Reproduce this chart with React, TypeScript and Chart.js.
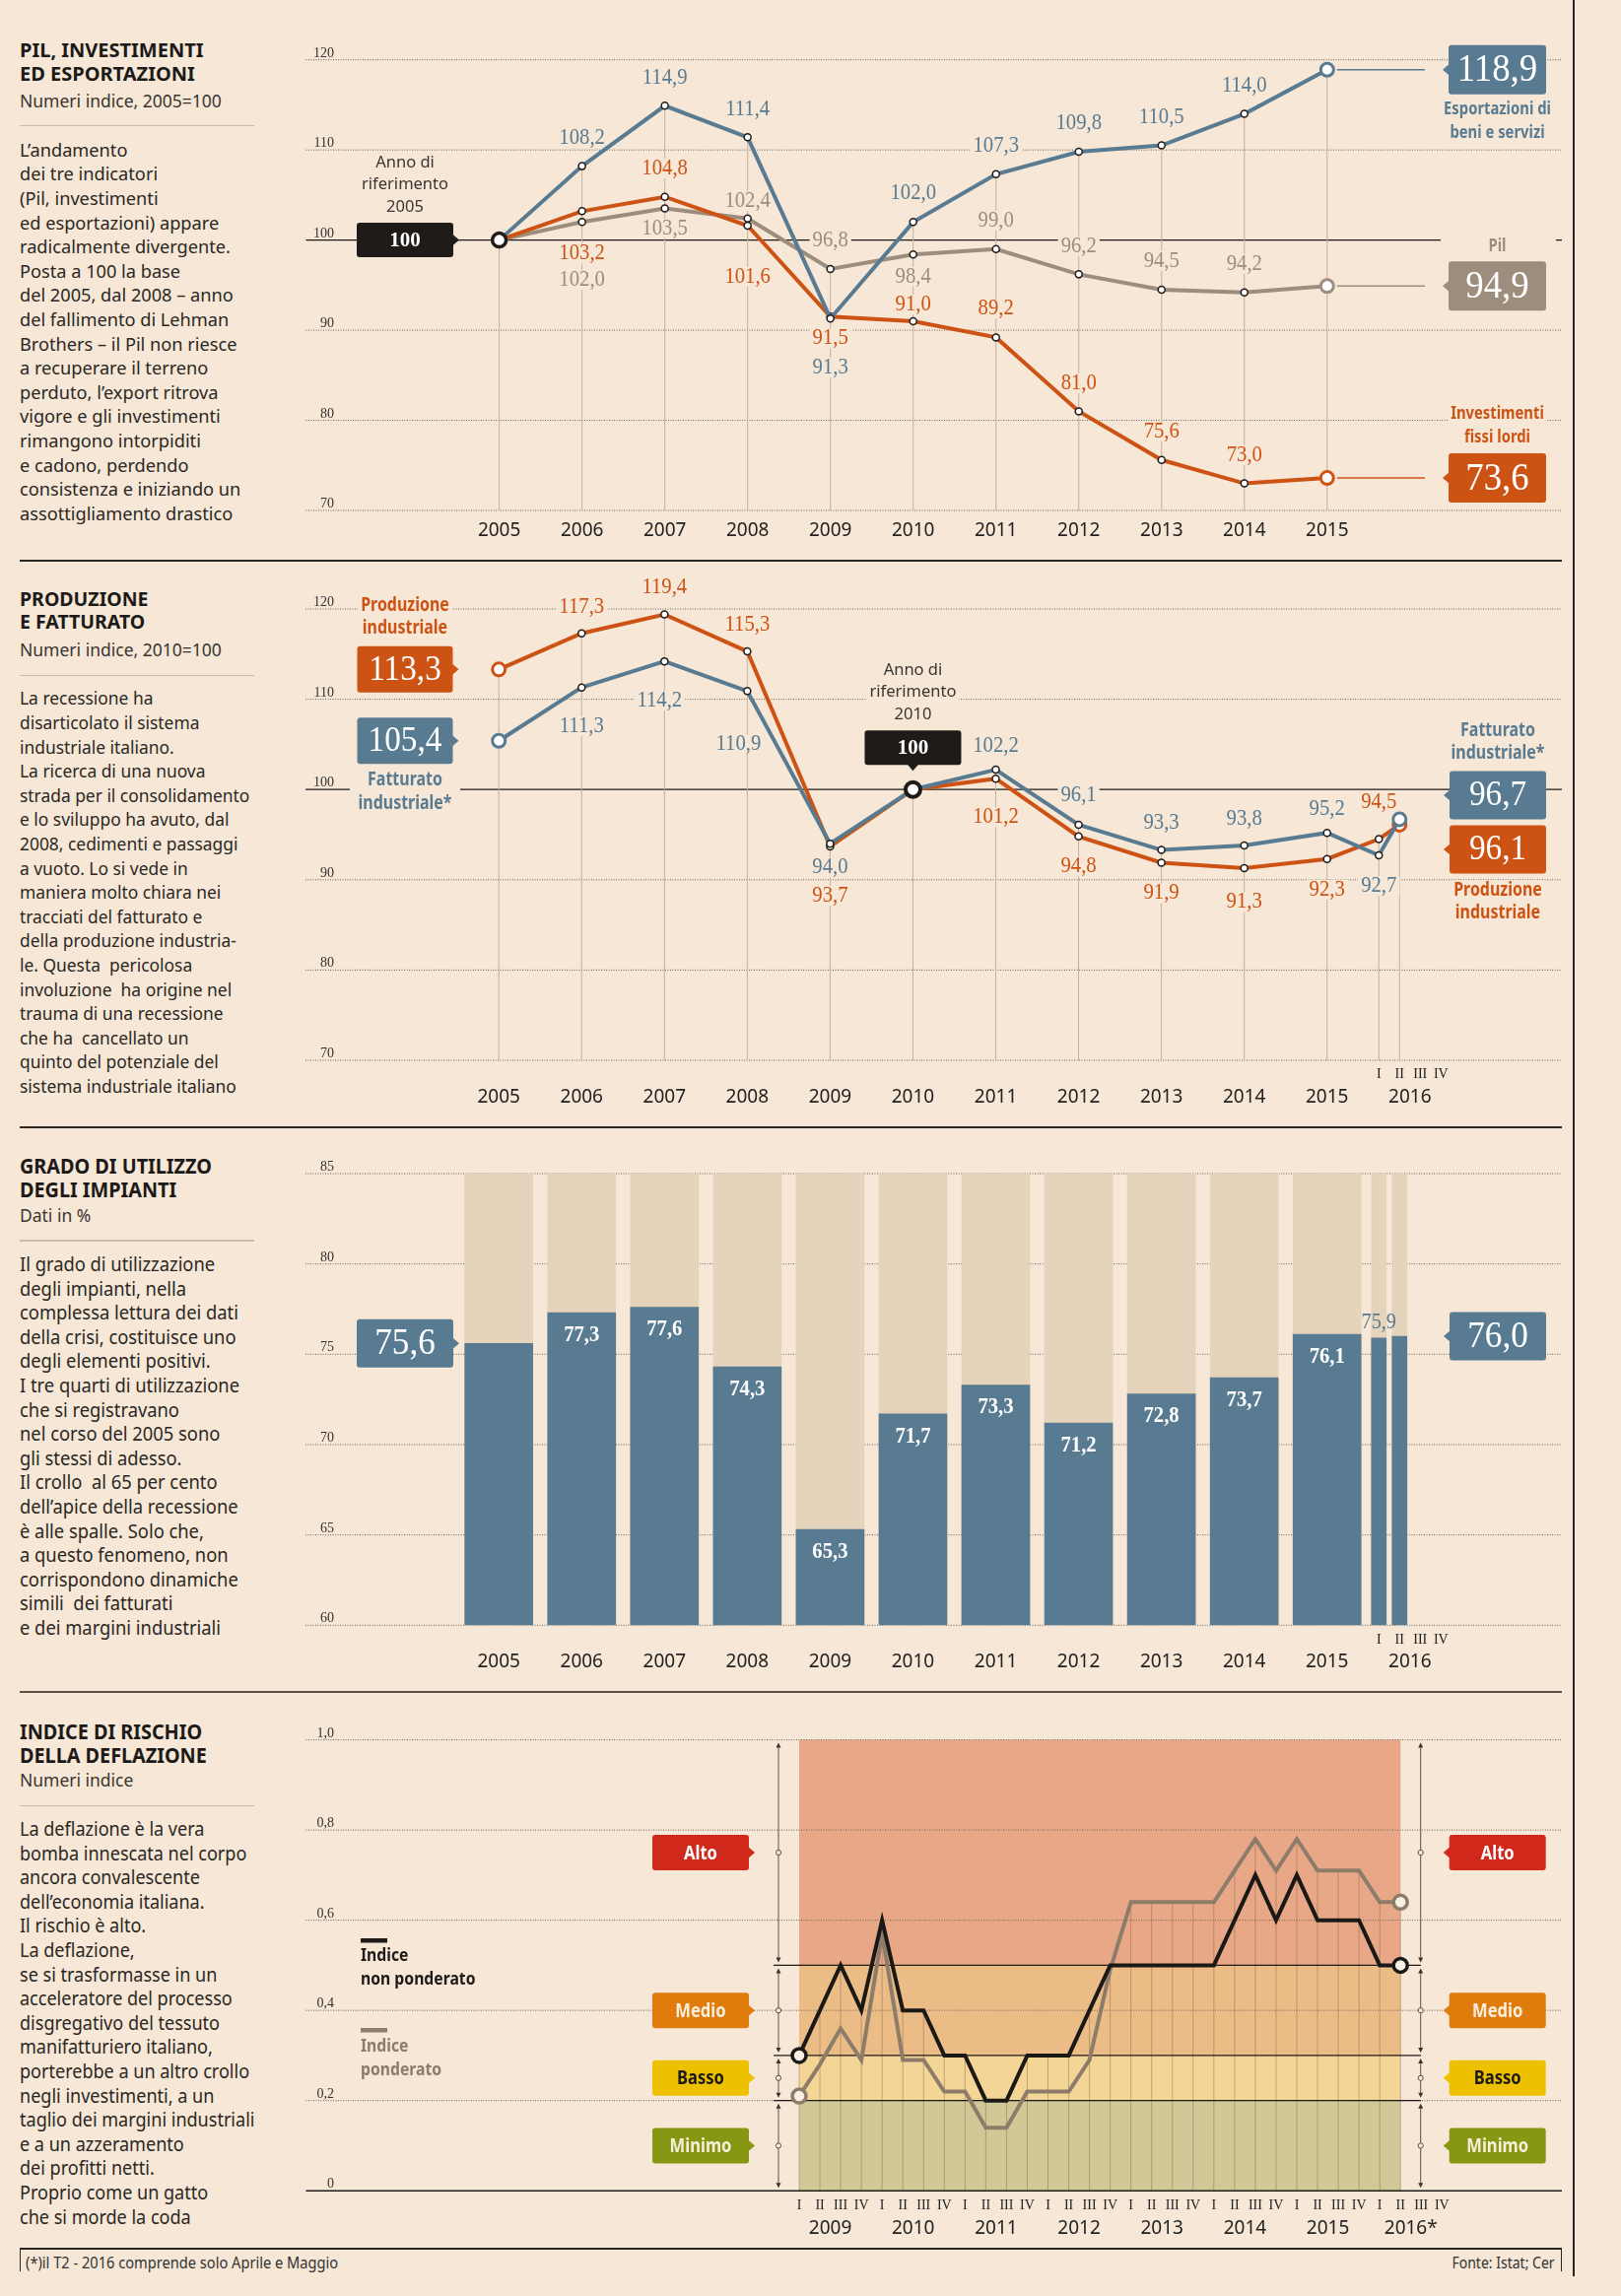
import React, { useEffect, useRef } from 'react';
import { Chart, registerables } from 'chart.js';
Chart.register(...registerables);

// ================= DATA =================
// Chart 1 – Pil, investimenti ed esportazioni (2005=100)
const years1 = [2005, 2006, 2007, 2008, 2009, 2010, 2011, 2012, 2013, 2014, 2015];
const exportValues = [100, 108.2, 114.9, 111.4, 91.3, 102.0, 107.3, 109.8, 110.5, 114.0, 118.9];
const pilValues = [100, 102.0, 103.5, 102.4, 96.8, 98.4, 99.0, 96.2, 94.5, 94.2, 94.9];
const investValues = [100, 103.2, 104.8, 101.6, 91.5, 91.0, 89.2, 81.0, 75.6, 73.0, 73.6];
const ticks1 = [70, 80, 90, 100, 110, 120];

// Chart 2 – Produzione e fatturato (2010=100)
const periods2 = ['2005', '2006', '2007', '2008', '2009', '2010', '2011', '2012', '2013', '2014', '2015', '2016 I', '2016 II'];
const fatturatoValues = [105.4, 111.3, 114.2, 110.9, 94.0, 100, 102.2, 96.1, 93.3, 93.8, 95.2, 92.7, 96.7];
const produzioneValues = [113.3, 117.3, 119.4, 115.3, 93.7, 100, 101.2, 94.8, 91.9, 91.3, 92.3, 94.5, 96.1];
const ticks2 = [70, 80, 90, 100, 110, 120];

// Chart 3 – Grado di utilizzo degli impianti (%)
const periods3 = ['2005', '2006', '2007', '2008', '2009', '2010', '2011', '2012', '2013', '2014', '2015', '2016 I', '2016 II'];
const utilizzoValues = [75.6, 77.3, 77.6, 74.3, 65.3, 71.7, 73.3, 71.2, 72.8, 73.7, 76.1, 75.9, 76.0];
const ticks3 = [60, 65, 70, 75, 80, 85];

// Chart 4 – Indice di rischio della deflazione (trimestri 2009 I – 2016 II)
const years4Labels = ['2009', '2010', '2011', '2012', '2013', '2014', '2015', '2016*'];
const quarterNames = ['I', 'II', 'III', 'IV'];
const nonPonderato = [0.3, 0.4, 0.5, 0.4, 0.6, 0.4, 0.4, 0.3, 0.3, 0.2, 0.2, 0.3, 0.3, 0.3, 0.4, 0.5, 0.5, 0.5, 0.5, 0.5, 0.5, 0.6, 0.7, 0.6, 0.7, 0.6, 0.6, 0.6, 0.5, 0.5];
const ponderato = [0.21, 0.28, 0.36, 0.29, 0.57, 0.29, 0.29, 0.22, 0.22, 0.14, 0.14, 0.22, 0.22, 0.22, 0.29, 0.49, 0.64, 0.64, 0.64, 0.64, 0.64, 0.71, 0.78, 0.71, 0.78, 0.71, 0.71, 0.71, 0.64, 0.64];
const ticks4 = [0, 0.2, 0.4, 0.6, 0.8, 1.0];
const riskNames = ['Alto', 'Medio', 'Basso', 'Minimo'];
const riskFrom = [0.5, 0.3, 0.2, 0];
const riskTo = [1.0, 0.5, 0.3, 0.2];

// ================= LAYOUT / STYLE =================
const BG = '#f6e7d6';
const BLUE = '#587b92';
const ORANGE = '#cd5314';
const PILC = '#9d8d7d';
const DARK = '#1e1b18';
const GRID = '#6e645b';
const VLINE = '#c3b19e';
const TEXT = '#2b2724';
const BARBG = '#e5d3bc';
const GRAY4 = '#8e7c6a';
const zoneColors = ['#e8a887', '#ebbc86', '#f3d595', '#d1c897'];
const riskBoxColors = ['#d0281a', '#e07c0c', '#eec100', '#879713'];
const riskTextColors = ['#ffffff', '#fbeede', '#1b1916', '#f4efd9'];
const SERIF = '"Liberation Serif", "DejaVu Serif", serif';
const SANS = '"Noto Sans", "Open Sans", sans-serif';

// label offsets (px from point, negative = above)
const dy1Export = [null, -29, -28.6, -28, 50, -29, -29, -28.6, -28.6, -28.6, null];
const dy1Pil = [null, 59, 20, -17.5, -28.6, 22.5, -29, -28.6, -29, -29, null];
const dy1Invest = [null, 43, -28.6, 52, 22, -17, -29, -28.6, -28.6, -28.6, null];
const dy2Fatt = [null, 39, 40, 54, 24, null, -24, -30, -27.6, -27, -24, 31, null];
const dx2Fatt = [0, 0, -5, -9, 0, 0, 0, 0, 0, 0, 0, 0, 0];
const dy2Prod = [null, -27, -27.6, -27, 50, null, 39, 30, 31, 34.5, 31, -38, null];

const CW = 1297; // canvas width (canvas left = 300 px)
const X_MIN = 2002.6657, X_MAX = 2017.835;
const LABEL_FONT = `23px ${SERIF}`;
const LABEL_SX = 0.9;

function periodX(p: string) {
  const parts = p.split(' ');
  const y = Number(parts[0]);
  if (parts.length === 1) return y;
  return y + (quarterNames.indexOf(parts[1]) - 1.5) * 0.25;
}
function fmt(v: number) { return v.toFixed(1).replace('.', ','); }

// ================= DRAW HELPERS =================
function hLine(ctx: any, x1: number, x2: number, y: number, color: string, w = 1, dash: number[] = []) {
  ctx.save(); ctx.strokeStyle = color; ctx.lineWidth = w; ctx.setLineDash(dash);
  ctx.beginPath(); ctx.moveTo(x1, y); ctx.lineTo(x2, y); ctx.stroke(); ctx.restore();
}
function vLine(ctx: any, x: number, y1: number, y2: number, color: string, w = 1) {
  ctx.save(); ctx.strokeStyle = color; ctx.lineWidth = w;
  ctx.beginPath(); ctx.moveTo(x, y1); ctx.lineTo(x, y2); ctx.stroke(); ctx.restore();
}
function txt(ctx: any, s: string, x: number, y: number, font: string, color: string, o: any = {}) {
  ctx.save();
  ctx.font = font;
  const al = o.align || 'center';
  ctx.textAlign = al;
  ctx.textBaseline = o.baseline || 'middle';
  const sx = o.sx || 1;
  if (o.bg) {
    const pad = o.padX ?? 6;
    const w = ctx.measureText(s).width * sx + pad;
    const h = o.h ?? 20;
    const left = al === 'center' ? x - w / 2 : al === 'left' ? x - pad / 2 : x - w + pad / 2;
    ctx.fillStyle = o.bg;
    ctx.fillRect(left, y - h / 2, w, h);
  }
  if (!o.bgOnly) {
    ctx.translate(x, y);
    ctx.scale(sx, 1);
    ctx.fillStyle = color;
    ctx.fillText(s, 0, 0);
  }
  ctx.restore();
}
function box(ctx: any, x: number, y: number, w: number, h: number, color: string, side: string, label: string, font: string, textColor: string, sx = 1) {
  ctx.save();
  ctx.fillStyle = color;
  const r = 3;
  ctx.beginPath();
  ctx.moveTo(x + r, y); ctx.lineTo(x + w - r, y); ctx.quadraticCurveTo(x + w, y, x + w, y + r);
  ctx.lineTo(x + w, y + h - r); ctx.quadraticCurveTo(x + w, y + h, x + w - r, y + h);
  ctx.lineTo(x + r, y + h); ctx.quadraticCurveTo(x, y + h, x, y + h - r);
  ctx.lineTo(x, y + r); ctx.quadraticCurveTo(x, y, x + r, y);
  ctx.closePath(); ctx.fill();
  const p = 6;
  ctx.beginPath();
  if (side === 'left') { ctx.moveTo(x + 1, y + h / 2 - p); ctx.lineTo(x - p, y + h / 2); ctx.lineTo(x + 1, y + h / 2 + p); }
  else if (side === 'right') { ctx.moveTo(x + w - 1, y + h / 2 - p); ctx.lineTo(x + w + p, y + h / 2); ctx.lineTo(x + w - 1, y + h / 2 + p); }
  else { ctx.moveTo(x + w / 2 - p, y + h - 1); ctx.lineTo(x + w / 2, y + h + p); ctx.lineTo(x + w / 2 + p, y + h - 1); }
  ctx.closePath(); ctx.fill();
  ctx.restore();
  txt(ctx, label, x + w / 2, y + h / 2 + 1, font, textColor, { sx });
}
function yTick(ctx: any, label: string, py: number) {
  txt(ctx, label, 39, py - 3, `14px ${SERIF}`, '#333', { align: 'right', baseline: 'alphabetic' });
}
const NAME_FONT1 = `bold 18.5px ${SANS}`;

function baseOptions(pad: any, xMin: number, xMax: number, yMin: number, yMax: number) {
  return {
    responsive: false,
    animation: false,
    events: [],
    layout: { padding: pad },
    plugins: { legend: { display: false }, tooltip: { enabled: false } },
    scales: {
      x: { type: 'linear', display: false, min: xMin, max: xMax, offset: false },
      y: { type: 'linear', display: false, min: yMin, max: yMax },
    },
  };
}

// ================= CHART 1 =================
function makeChart1(canvas: HTMLCanvasElement) {
  const series = [
    { values: exportValues, color: BLUE, dy: dy1Export, name: ['Esportazioni di', 'beni e servizi'], namePos: 'below' },
    { values: investValues, color: ORANGE, dy: dy1Invest, name: ['Investimenti', 'fissi lordi'], namePos: 'above' },
    { values: pilValues, color: PILC, dy: dy1Pil, name: ['Pil'], namePos: 'above' },
  ];
  const last = years1.length - 1;
  const BX = 1170, BW = 99, BH = 50;
  const plugin = {
    id: 'c1',
    beforeDatasetsDraw(ch: any) {
      const { ctx, chartArea: a } = ch; const X = ch.scales.x, Y = ch.scales.y;
      ticks1.forEach((t) => {
        const py = Y.getPixelForValue(t);
        if (t === 100) { hLine(ctx, a.left, BX - 8, py, DARK, 1.3); hLine(ctx, BX + BW + 10, a.right, py, DARK, 1.3); }
        else hLine(ctx, a.left, a.right, py, GRID, 1, [1, 1.5]);
        yTick(ctx, String(t), py);
      });
      years1.forEach((yr, i) => {
        const px = X.getPixelForValue(yr);
        const top = Math.min(...series.map((s) => Y.getPixelForValue(s.values[i])));
        vLine(ctx, px, top, a.bottom, VLINE, 1);
        txt(ctx, String(yr), px, 539, `19px ${SANS}`, '#222');
      });
      series.forEach((s) => s.values.forEach((v, i) => {
        const d = s.dy[i]; if (d == null) return;
        txt(ctx, fmt(v), X.getPixelForValue(years1[i]), Y.getPixelForValue(v) + d, LABEL_FONT, s.color, { bg: BG, bgOnly: true, sx: LABEL_SX });
      }));
    },
    afterDatasetsDraw(ch: any) {
      const { ctx } = ch; const X = ch.scales.x, Y = ch.scales.y;
      series.forEach((s) => s.values.forEach((v, i) => {
        const d = s.dy[i]; if (d == null) return;
        txt(ctx, fmt(v), X.getPixelForValue(years1[i]), Y.getPixelForValue(v) + d, LABEL_FONT, s.color, { sx: LABEL_SX });
      }));
      series.forEach((s) => {
        const v = s.values[last];
        const py = Y.getPixelForValue(v);
        const px = X.getPixelForValue(years1[last]);
        hLine(ctx, px + 10, BX - 24, py, s.color, 1.5);
        box(ctx, BX, py - BH / 2, BW, BH, s.color, 'left', fmt(v), `40px ${SERIF}`, '#fff', 0.92);
        const cx = BX + BW / 2;
        if (s.namePos === 'below') {
          s.name.forEach((n, k) => txt(ctx, n, cx, py + BH / 2 + 15 + k * 24, NAME_FONT1, s.color, { sx: 0.8, bg: BG }));
        } else {
          const n = s.name.length;
          s.name.forEach((nm, k) => txt(ctx, nm, cx, py - BH / 2 - 16 - (n - 1 - k) * 24, NAME_FONT1, s.color, { sx: 0.8, bg: BG }));
        }
      });
      // reference year annotation
      const py100 = Y.getPixelForValue(100);
      const top = py100 - 17.5;
      ['Anno di', 'riferimento', String(years1[0])].forEach((t, k) =>
        txt(ctx, t, 111, top - 61 + k * 22.5, `16.5px ${SANS}`, '#3a3632', { bg: BG }));
      box(ctx, 62, top, 98, 35, DARK, 'right', '100', `bold 21px ${SERIF}`, '#fff');
    },
  };
  return new Chart(canvas, {
    type: 'line',
    data: {
      datasets: series.map((s, si) => ({
        data: years1.map((yr, i) => ({ x: yr, y: s.values[i] })),
        borderColor: s.color,
        borderWidth: 4,
        tension: 0,
        clip: false,
        pointRadius: (c: any) => (c.dataIndex === last ? 6.5 : c.dataIndex === 0 ? (si === 0 ? 7 : 0) : 3.5),
        pointBorderWidth: (c: any) => (c.dataIndex === last ? 3 : c.dataIndex === 0 ? 3.5 : 1.5),
        pointBorderColor: (c: any) => (c.dataIndex === last ? s.color : DARK),
        pointBackgroundColor: '#ffffff',
      })),
    },
    options: baseOptions({ left: 10, right: 12, top: 60.7, bottom: 51 }, X_MIN, X_MAX, 70, 120) as any,
    plugins: [plugin],
  } as any);
}

// ================= CHART 2 =================
function makeChart2(canvas: HTMLCanvasElement) {
  const xs = periods2.map(periodX);
  const last = xs.length - 1;
  const refIndex = periods2.indexOf('2010');
  const series = [
    { values: fatturatoValues, color: BLUE, dy: dy2Fatt, dx: dx2Fatt, name: ['Fatturato', 'industriale*'] },
    { values: produzioneValues, color: ORANGE, dy: dy2Prod, dx: null as any, name: ['Produzione', 'industriale'] },
  ];
  const NF = `bold 19px ${SANS}`;
  const plugin = {
    id: 'c2',
    beforeDatasetsDraw(ch: any) {
      const { ctx, chartArea: a } = ch; const X = ch.scales.x, Y = ch.scales.y;
      ticks2.forEach((t) => {
        const py = Y.getPixelForValue(t);
        if (t === 100) { hLine(ctx, a.left, 55, py, DARK, 1.3); hLine(ctx, 167, a.right, py, DARK, 1.3); }
        else hLine(ctx, a.left, a.right, py, GRID, 1, [1, 1.5]);
        yTick(ctx, String(t), py);
      });
      xs.forEach((x, i) => {
        const px = X.getPixelForValue(x);
        const top = Math.min(...series.map((s) => Y.getPixelForValue(s.values[i])));
        vLine(ctx, px, top, a.bottom, VLINE, 1);
        if (!periods2[i].includes(' ')) txt(ctx, periods2[i], px, 545, `19px ${SANS}`, '#222');
      });
      quarterNames.forEach((q) => txt(ctx, q, X.getPixelForValue(periodX('2016 ' + q)), 521.5, `14px ${SERIF}`, '#222'));
      txt(ctx, '2016', X.getPixelForValue(2016), 545, `19px ${SANS}`, '#222');
      series.forEach((s) => s.values.forEach((v, i) => {
        const d = s.dy[i]; if (d == null) return;
        const dx = s.dx ? s.dx[i] : 0;
        txt(ctx, fmt(v), X.getPixelForValue(xs[i]) + dx, Y.getPixelForValue(v) + d, LABEL_FONT, s.color, { bg: BG, bgOnly: true, sx: LABEL_SX });
      }));
    },
    afterDatasetsDraw(ch: any) {
      const { ctx } = ch; const X = ch.scales.x, Y = ch.scales.y;
      series.forEach((s) => s.values.forEach((v, i) => {
        const d = s.dy[i]; if (d == null) return;
        const dx = s.dx ? s.dx[i] : 0;
        txt(ctx, fmt(v), X.getPixelForValue(xs[i]) + dx, Y.getPixelForValue(v) + d, LABEL_FONT, s.color, { sx: LABEL_SX });
      }));
      // left boxes (first values)
      const BF = `35px ${SERIF}`;
      series.forEach((s, si) => {
        const v = s.values[0];
        const top = Y.getPixelForValue(v) - 23.5;
        box(ctx, 62.5, top, 97, 47, s.color, 'right', fmt(v), BF, '#fff', 0.95);
        const cx = 111;
        if (si === 1) s.name.forEach((n, k) => txt(ctx, n, cx, top - 41 + k * 22.5, NF, s.color, { sx: 0.84, bg: BG }));
        else s.name.forEach((n, k) => txt(ctx, n, cx, top + 47 + 16.5 + k * 23.5, NF, s.color, { sx: 0.84, bg: BG }));
      });
      // right boxes (last values)
      const vb = series[0].values[last], vo = series[1].values[last];
      const tb = Y.getPixelForValue(vb) - 49;
      const to = Y.getPixelForValue(vo) + 0.5;
      box(ctx, 1171, tb, 98, 49, BLUE, 'left', fmt(vb), BF, '#fff', 0.95);
      box(ctx, 1171, to, 98, 49, ORANGE, 'left', fmt(vo), BF, '#fff', 0.95);
      series[0].name.forEach((n, k) => txt(ctx, n, 1220, tb - 41 + k * 23, NF, BLUE, { sx: 0.84, bg: BG }));
      series[1].name.forEach((n, k) => txt(ctx, n, 1220, to + 49 + 17 + k * 23, NF, ORANGE, { sx: 0.84, bg: BG }));
      // reference year
      const rx = X.getPixelForValue(xs[refIndex]);
      const rtop = Y.getPixelForValue(100) - 60;
      ['Anno di', 'riferimento', periods2[refIndex]].forEach((t, k) =>
        txt(ctx, t, rx, rtop - 61 + k * 22.5, `16.5px ${SANS}`, '#3a3632', { bg: BG }));
      box(ctx, rx - 49, rtop, 98, 35, DARK, 'bottom', '100', `bold 21px ${SERIF}`, '#fff');
    },
  };
  return new Chart(canvas, {
    type: 'line',
    data: {
      datasets: series.map((s, si) => ({
        data: xs.map((x, i) => ({ x, y: s.values[i] })),
        borderColor: s.color,
        borderWidth: 4,
        tension: 0,
        clip: false,
        pointRadius: (c: any) => (c.dataIndex === 0 || c.dataIndex === last ? 6.5 : c.dataIndex === refIndex ? (si === 0 ? 7.5 : 0) : 3.5),
        pointBorderWidth: (c: any) => (c.dataIndex === 0 || c.dataIndex === last ? 3 : c.dataIndex === refIndex ? 4 : 1.5),
        pointBorderColor: (c: any) => (c.dataIndex === 0 || c.dataIndex === last ? s.color : DARK),
        pointBackgroundColor: '#ffffff',
      })),
    },
    options: baseOptions({ left: 10, right: 12, top: 49, bottom: 68 }, X_MIN, X_MAX, 70, 120) as any,
    plugins: [plugin],
  } as any);
}

// ================= CHART 3 =================
function makeChart3(canvas: HTMLCanvasElement) {
  const xs = periods3.map(periodX);
  const last = xs.length - 1;
  const yearIdx = periods3.map((p, i) => i).filter((i) => !periods3[i].includes(' '));
  const qIdx = periods3.map((p, i) => i).filter((i) => periods3[i].includes(' '));
  const top = ticks3[ticks3.length - 1];
  const base = ticks3[0];
  const plugin = {
    id: 'c3',
    beforeDatasetsDraw(ch: any) {
      const { ctx, chartArea: a } = ch; const X = ch.scales.x, Y = ch.scales.y;
      ticks3.forEach((t) => {
        const py = Y.getPixelForValue(t);
        hLine(ctx, a.left, a.right, py, GRID, 1, [1, 1.5]);
        yTick(ctx, String(t), py);
      });
      yearIdx.forEach((i) => txt(ctx, periods3[i], X.getPixelForValue(xs[i]), 542.5, `19px ${SANS}`, '#222'));
      quarterNames.forEach((q) => txt(ctx, q, X.getPixelForValue(periodX('2016 ' + q)), 520.5, `14px ${SERIF}`, '#222'));
      txt(ctx, '2016', X.getPixelForValue(2016), 542.5, `19px ${SANS}`, '#222');
    },
    afterDatasetsDraw(ch: any) {
      const { ctx } = ch; const X = ch.scales.x, Y = ch.scales.y;
      utilizzoValues.forEach((v, i) => {
        if (i === 0 || i === last) return;
        const px = X.getPixelForValue(xs[i]);
        const py = Y.getPixelForValue(v);
        if (periods3[i].includes(' ')) txt(ctx, fmt(v), px, py - 16, `23px ${SERIF}`, BLUE, { sx: 0.88 });
        else txt(ctx, fmt(v), px, py + 22.5, `bold 24px ${SERIF}`, '#ffffff', { sx: 0.86 });
      });
      const v0 = utilizzoValues[0], vl = utilizzoValues[last];
      box(ctx, 62, Y.getPixelForValue(v0) - 24.5, 98, 49, BLUE, 'right', fmt(v0), `37px ${SERIF}`, '#fff', 0.95);
      box(ctx, 1171, Y.getPixelForValue(vl) - 24.5, 98, 49, BLUE, 'left', fmt(vl), `37px ${SERIF}`, '#fff', 0.95);
    },
  };
  const mk = (idx: number[], vals: (i: number) => number, color: string, thick: number, order: number) => ({
    data: idx.map((i) => ({ x: xs[i], y: vals(i) })),
    backgroundColor: color,
    barThickness: thick,
    base,
    grouped: false,
    order,
    borderWidth: 0,
  });
  return new Chart(canvas, {
    type: 'bar',
    data: {
      datasets: [
        mk(yearIdx, (i) => utilizzoValues[i], BLUE, 69, 1),
        mk(qIdx, (i) => utilizzoValues[i], BLUE, 15, 1),
        mk(yearIdx, () => top, BARBG, 69, 2),
        mk(qIdx, () => top, BARBG, 15, 2),
      ],
    },
    options: baseOptions({ left: 10, right: 12, top: 47, bottom: 67.7 }, X_MIN, X_MAX, 60, 85) as any,
    plugins: [plugin],
  } as any);
}

// ================= CHART 4 =================
function makeChart4(canvas: HTMLCanvasElement) {
  const n = nonPonderato.length;
  const last = n - 1;
  const xs = nonPonderato.map((_, i) => i);
  const LB = 362, RB = 1170.7;
  const plugin = {
    id: 'c4',
    beforeDatasetsDraw(ch: any) {
      const { ctx, chartArea: a } = ch; const X = ch.scales.x, Y = ch.scales.y;
      const x0 = X.getPixelForValue(0), x1 = X.getPixelForValue(last);
      riskNames.forEach((_, k) => {
        ctx.save(); ctx.fillStyle = zoneColors[k];
        ctx.fillRect(x0, Y.getPixelForValue(riskTo[k]), x1 - x0, Y.getPixelForValue(riskFrom[k]) - Y.getPixelForValue(riskTo[k]));
        ctx.restore();
      });
      xs.forEach((x, i) => {
        const px = X.getPixelForValue(x);
        const t = Math.min(Y.getPixelForValue(nonPonderato[i]), Y.getPixelForValue(ponderato[i]));
        vLine(ctx, px, t, Y.getPixelForValue(0), 'rgba(115,85,55,0.38)', 1);
      });
      ticks4.forEach((t) => {
        const py = Y.getPixelForValue(t);
        if (t > 0) hLine(ctx, a.left, a.right, py, GRID, 1, [1, 1.5]);
        yTick(ctx, t === 0 ? '0' : t.toFixed(1).replace('.', ','), py);
      });
      [0.2, 0.3, 0.5].forEach((t) => hLine(ctx, 485, 1142, Y.getPixelForValue(t), DARK, 1.3));
      hLine(ctx, a.left, a.right, Y.getPixelForValue(0), DARK, 1.6);
      // range indicators
      [490, 1141.7].forEach((rx) => {
        riskNames.forEach((_, k) => {
          const yt = Y.getPixelForValue(riskTo[k]) + 3, yb = Y.getPixelForValue(riskFrom[k]) - 3;
          ctx.save();
          ctx.strokeStyle = '#5a5048'; ctx.fillStyle = '#3a3430'; ctx.lineWidth = 1;
          ctx.beginPath(); ctx.moveTo(rx, yt + 2); ctx.lineTo(rx, yb - 2); ctx.stroke();
          ctx.beginPath(); ctx.moveTo(rx, yt); ctx.lineTo(rx - 2.5, yt + 5); ctx.lineTo(rx + 2.5, yt + 5); ctx.closePath(); ctx.fill();
          ctx.beginPath(); ctx.moveTo(rx, yb); ctx.lineTo(rx - 2.5, yb - 5); ctx.lineTo(rx + 2.5, yb - 5); ctx.closePath(); ctx.fill();
          const ym = Y.getPixelForValue((riskFrom[k] + riskTo[k]) / 2);
          ctx.beginPath(); ctx.arc(rx, ym, 2.6, 0, Math.PI * 2); ctx.fillStyle = BG; ctx.fill(); ctx.stroke();
          ctx.restore();
        });
      });
      // level boxes
      riskNames.forEach((nm, k) => {
        const ym = Y.getPixelForValue((riskFrom[k] + riskTo[k]) / 2);
        box(ctx, LB, ym - 18, 98, 36, riskBoxColors[k], 'right', nm, `bold 19.5px ${SANS}`, riskTextColors[k], 0.85);
        box(ctx, RB, ym - 18, 98, 36, riskBoxColors[k], 'left', nm, `bold 19.5px ${SANS}`, riskTextColors[k], 0.85);
      });
      // legend
      const LF = `bold 18.5px ${SANS}`;
      ctx.save(); ctx.fillStyle = DARK; ctx.fillRect(66, 250, 27, 4.5); ctx.fillStyle = GRAY4; ctx.fillRect(66, 341, 27, 4.5); ctx.restore();
      txt(ctx, 'Indice', 66, 268, LF, DARK, { align: 'left', sx: 0.85 });
      txt(ctx, 'non ponderato', 66, 292, LF, DARK, { align: 'left', sx: 0.85 });
      txt(ctx, 'Indice', 66, 359.5, LF, GRAY4, { align: 'left', sx: 0.85 });
      txt(ctx, 'ponderato', 66, 383.7, LF, GRAY4, { align: 'left', sx: 0.85 });
      // x labels
      years4Labels.forEach((yl, yi) => {
        quarterNames.forEach((q, qi) => txt(ctx, q, X.getPixelForValue(yi * 4 + qi), 521, `14px ${SERIF}`, '#222'));
        txt(ctx, yl, X.getPixelForValue(yi * 4 + 1.5), 544.7, `19px ${SANS}`, '#222');
      });
    },
  };
  const ds = (vals: number[], color: string) => ({
    data: xs.map((x, i) => ({ x, y: vals[i] })),
    borderColor: color,
    borderWidth: 4,
    tension: 0,
    clip: false,
    borderJoinStyle: 'miter',
    pointRadius: (c: any) => (c.dataIndex === 0 || c.dataIndex === last ? 7 : 0),
    pointBorderWidth: 3.5,
    pointBorderColor: color,
    pointBackgroundColor: '#f8efe4',
  });
  const xMin = (310 - 810.7) / 21.05, xMax = (1585 - 810.7) / 21.05;
  return new Chart(canvas, {
    type: 'line',
    data: { datasets: [ds(nonPonderato, '#1b1916'), ds(ponderato, GRAY4)] },
    options: baseOptions({ left: 10, right: 12, top: 48.6, bottom: 56.8 }, xMin, xMax, 0, 1) as any,
    plugins: [plugin],
  } as any);
}

// ================= TEXT PANELS =================
const panels = [
  {
    titles: ['PIL, INVESTIMENTI', 'ED ESPORTAZIONI'], titleY: [51, 75], sub: 'Numeri indice, 2005=100', subY: 101.5, sepY: 127.5, bodyY: 151.8, condensed: false, bodySize: 18.2, titleSize: 20,
    body: ['L’andamento', 'dei tre indicatori', '(Pil, investimenti', 'ed esportazioni) appare', 'radicalmente divergente.', 'Posta a 100 la base', 'del 2005, dal 2008 – anno', 'del fallimento di Lehman', 'Brothers – il Pil non riesce', 'a recuperare il terreno', 'perduto, l’export ritrova', 'vigore e gli investimenti', 'rimangono intorpiditi', 'e cadono, perdendo', 'consistenza e iniziando un', 'assottigliamento drastico'],
  },
  {
    titles: ['PRODUZIONE', 'E FATTURATO'], titleY: [608, 631], sub: 'Numeri indice, 2010=100', subY: 659, sepY: 685.5, bodyY: 708.3, condensed: false, bodySize: 17.4, titleSize: 19.5,
    body: ['La recessione ha', 'disarticolato il sistema', 'industriale italiano.', 'La ricerca di una nuova', 'strada per il consolidamento', 'e lo sviluppo ha avuto, dal', '2008, cedimenti e passaggi', 'a vuoto. Lo si vede in', 'maniera molto chiara nei', 'tracciati del fatturato e', 'della produzione industria-', 'le. Questa  pericolosa', 'involuzione  ha origine nel', 'trauma di una recessione', 'che ha  cancellato un', 'quinto del potenziale del', 'sistema industriale italiano'],
  },
  {
    titles: ['GRADO DI UTILIZZO', 'DEGLI IMPIANTI'], titleY: [1182, 1206], sub: 'Dati in %', subY: 1233, sepY: 1259, bodyY: 1283, condensed: true, bodySize: 19.5, titleSize: 22,
    body: ['Il grado di utilizzazione', 'degli impianti, nella', 'complessa lettura dei dati', 'della crisi, costituisce uno', 'degli elementi positivi.', 'I tre quarti di utilizzazione', 'che si registravano', 'nel corso del 2005 sono', 'gli stessi di adesso.', 'Il crollo  al 65 per cento', 'dell’apice della recessione', 'è alle spalle. Solo che,', 'a questo fenomeno, non', 'corrispondono dinamiche', 'simili  dei fatturati', 'e dei margini industriali'],
  },
  {
    titles: ['INDICE DI RISCHIO', 'DELLA DEFLAZIONE'], titleY: [1755.5, 1780], sub: 'Numeri indice', subY: 1806, sepY: 1832.6, bodyY: 1856, condensed: true, bodySize: 19.2, titleSize: 22,
    body: ['La deflazione è la vera', 'bomba innescata nel corpo', 'ancora convalescente', 'dell’economia italiana.', 'Il rischio è alto.', 'La deflazione,', 'se si trasformasse in un', 'acceleratore del processo', 'disgregativo del tessuto', 'manifatturiero italiano,', 'porterebbe a un altro crollo', 'negli investimenti, a un', 'taglio dei margini industriali', 'e a un azzeramento', 'dei profitti netti.', 'Proprio come un gatto', 'che si morde la coda'],
  },
];

function Line(props: any) {
  const { x = 20, cy, text, size, weight = 400, color = TEXT, sx = 1, lh = 24, origin = 'left center', right } = props;
  const st: any = {
    position: 'absolute', top: cy - lh / 2, height: lh, lineHeight: lh + 'px', fontSize: size, fontWeight: weight,
    color, fontFamily: SANS, whiteSpace: 'pre', transform: sx !== 1 ? `scaleX(${sx})` : undefined, transformOrigin: origin,
  };
  if (right != null) st.right = right; else st.left = x;
  return <div style={st}>{text}</div>;
}

function Panel({ p }: any) {
  const c = p.condensed;
  return (
    <>
      {p.titles.map((t: string, i: number) => (
        <Line key={'t' + i} cy={p.titleY[i]} text={t} size={p.titleSize} weight={700} color="#1c1a18" sx={c ? 0.9 : 1} />
      ))}
      <Line cy={p.subY} text={p.sub} size={c ? 18 : 17.5} color="#3a3531" sx={c ? 0.97 : 1} />
      <div style={{ position: 'absolute', left: 20, top: p.sepY - 0.75, width: 238, height: 1.5, background: '#cdbba5' }} />
      {p.body.map((t: string, i: number) => (
        <Line key={'b' + i} cy={p.bodyY + i * 24.6} text={t} size={p.bodySize} sx={c ? 0.94 : 1} />
      ))}
    </>
  );
}

export default function App() {
  const r1 = useRef<HTMLCanvasElement>(null);
  const r2 = useRef<HTMLCanvasElement>(null);
  const r3 = useRef<HTMLCanvasElement>(null);
  const r4 = useRef<HTMLCanvasElement>(null);
  useEffect(() => {
    const charts = [makeChart1(r1.current!), makeChart2(r2.current!), makeChart3(r3.current!), makeChart4(r4.current!)];
    return () => charts.forEach((c) => c.destroy());
  }, []);
  const cv = (top: number, h: number): any => ({ position: 'absolute', left: 300, top, width: CW, height: h });
  const hr = (y: number): any => ({ position: 'absolute', left: 20, top: y - 0.75, width: 1565, height: 1.5, background: '#2a2622' });
  return (
    <div style={{ position: 'absolute', left: 0, top: 0, width: 1645, height: 2330, background: BG, overflow: 'hidden', fontFamily: SANS }}>
      {panels.map((p, i) => <Panel key={i} p={p} />)}
      <canvas ref={r1} width={CW} height={569} style={cv(0, 569)} />
      <canvas ref={r2} width={CW} height={575} style={cv(569, 575)} />
      <canvas ref={r3} width={CW} height={573} style={cv(1144, 573)} />
      <canvas ref={r4} width={CW} height={563} style={cv(1717, 563)} />
      <div style={hr(569)} />
      <div style={hr(1144)} />
      <div style={{ ...hr(1717), background: '#5e5046' }} />
      <div style={hr(2282)} />
      <div style={{ position: 'absolute', left: 19.5, top: 2282, width: 1.5, height: 23, background: '#2a2622' }} />
      <div style={{ position: 'absolute', left: 1583.5, top: 2282, width: 1.5, height: 23, background: '#2a2622' }} />
      <div style={{ position: 'absolute', left: 1596, top: 0, width: 1.5, height: 2310, background: '#2a2622' }} />
      <Line x={26} cy={2296} text="(*)il T2 - 2016 comprende solo Aprile e Maggio" size={17} color="#333" sx={0.86} />
      <Line right={1645 - 1578} cy={2296} text="Fonte: Istat; Cer" size={16.5} color="#333" sx={0.85} origin="right center" />
    </div>
  );
}
